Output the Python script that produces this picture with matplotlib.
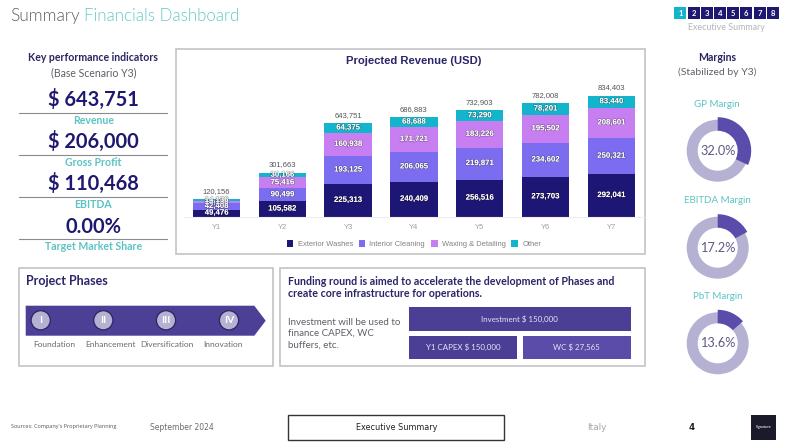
import matplotlib
matplotlib.use("Agg")
import matplotlib.patheffects as pe
from matplotlib import pyplot as plt
from matplotlib.patches import Circle, Polygon, Rectangle

W, H = 792, 444

# chart data
years = ["Y1", "Y2", "Y3", "Y4", "Y5", "Y6", "Y7"]
exterior = [49476, 105582, 225313, 240409, 256516, 273703, 292041]
interior = [42408, 90499, 193125, 206065, 219871, 234602, 250321]
waxing = [14136, 75416, 160938, 171721, 183226, 195502, 208601]
other = [14136, 30166, 64375, 68688, 73290, 78201, 83440]
totals = [120156, 301663, 643751, 686883, 732903, 782008, 834403]

kpi_values = ["$ 643,751", "$ 206,000", "$ 110,468", "0.00%"]
kpi_labels = ["Revenue", "Gross Profit", "EBITDA", "Target Market Share"]

margin_names = ["GP Margin", "EBITDA Margin", "PbT Margin"]
margin_values = [32.0, 17.2, 13.6]

phase_numbers = ["I", "II", "III", "IV"]
phase_names = ["Foundation", "Enhancement", "Diversification", "Innovation"]

NAVY = "#1e1870"
DARK = "#2a2560"
TEAL = "#5cc3c3"
GREY = "#5f5f68"
PURPLE = "#4b3f96"
PANEL = "#c4c4c6"
UI = "Lato"
ARIAL = "Liberation Sans"


def px_axes(fig, left, top, right, bottom):
    return fig.add_axes([left / W, 1 - bottom / H, (right - left) / W, (bottom - top) / H])


def drawPanel(bg, left, top, right, bottom):
    bg.add_patch(Rectangle((left, top), right - left, bottom - top, fc="white", ec=PANEL, lw=1.2))


def drawChart(fig):
    ax = px_axes(fig, 183.6, 86.2, 644.2, 216.7)
    series = [
        (exterior, "Exterior Washes", "#1e1675"),
        (interior, "Interior Cleaning", "#7b6cf0"),
        (waxing, "Waxing & Detailing", "#c77ef0"),
        (other, "Other", "#12b5cb"),
    ]
    bottom = [0] * len(years)
    for values, name, color in series:
        bars = ax.bar(years, values, 0.72, bottom=bottom, color=color, label=name)
        labels = ax.bar_label(bars, labels=[f"{v:,}" for v in values], label_type="center",
                              color="white", fontsize=5.6, fontweight="bold", family=ARIAL)
        for t in labels:
            t.set_path_effects([pe.withStroke(linewidth=0.8, foreground="#00000055")])
        bottom = [b + v for b, v in zip(bottom, values)]
    for i, total in enumerate(totals):
        ax.annotate(f"{total:,}", (i, total), xytext=(0, 3.2), textcoords="offset points",
                    ha="center", va="bottom", fontsize=5.5, color="#555555", family=ARIAL)
    ax.set_xlim(-0.5, 6.5)
    ax.set_ylim(0, 900000)
    ax.patch.set_alpha(0)
    for side in ["top", "left", "right"]:
        ax.spines[side].set_visible(False)
    ax.spines["bottom"].set_color("#eeeeee")
    ax.set_yticks([])
    ax.tick_params(axis="x", length=0, pad=5, labelsize=5.5, labelcolor="#a0a0a0")
    for t in ax.get_xticklabels():
        t.set_family(ARIAL)
    ax.legend(loc="center", bbox_to_anchor=(0.5, -0.212), ncol=4, frameon=False,
              handlelength=0.9, handleheight=0.9, handletextpad=0.55, columnspacing=0.75,
              labelcolor="#808080", prop={"family": ARIAL, "size": 5.45})


def drawDonut(fig, cx, cy, value):
    r = 36
    ax = px_axes(fig, cx - r, cy - r, cx + r, cy + r)
    ax.pie([100], colors=["#b5b1d3"], radius=31 / r, startangle=90,
           wedgeprops={"width": 11 / r})
    ax.pie([value, 100 - value], colors=["#5a4cab", "none"], radius=33.5 / r, startangle=90,
           counterclock=False, wedgeprops={"width": 13.5 / r})
    ax.set_xlim(-1, 1)
    ax.set_ylim(-1, 1)
    ax.text(0, 0, f"{value:.1f}%", ha="center", va="center", fontsize=9.2, color="#5d5a86", family=UI)


def main():
    fig = plt.figure(figsize=(W / 100, H / 100), dpi=100, facecolor="white")
    bg = fig.add_axes([0, 0, 1, 1], zorder=0)
    bg.set_xlim(0, W)
    bg.set_ylim(H, 0)
    bg.axis("off")
    top = fig.add_axes([0, 0, 1, 1], zorder=5)
    top.set_xlim(0, W)
    top.set_ylim(H, 0)
    top.axis("off")

    def text(x, y, s, size, color, ha="center", weight="normal", family=UI):
        return top.text(x, y, s, fontsize=size, color=color, ha=ha, va="center",
                        fontweight=weight, family=family)

    # header
    text(10, 16, "Summary", 12.4, "#5e5e66", ha="left", weight=300)
    text(84.5, 16, "Financials Dashboard", 12.2, "#68c8c8", ha="left", weight=300)
    for i in range(8):
        x = 674.3 + i * 13.2
        top.add_patch(Rectangle((x, 7.3), 12, 12, fc="#12b5cb" if i == 0 else NAVY, ec="none"))
        text(x + 6, 13.4, str(i + 1), 5.5, "white", weight="bold")
    text(726, 27.3, "Executive Summary", 6.4, "#b5b5bb")

    # kpi column
    text(93.3, 57.3, "Key performance indicators", 7.6, DARK, weight="bold")
    text(93.3, 72.3, "(Base Scenario Y3)", 7.6, GREY)
    for value, label, y_val, y_line, y_lab in zip(kpi_values, kpi_labels,
                                                  [99.3, 141.7, 183.7, 226.7],
                                                  [112.7, 154.7, 196.7, 238.7],
                                                  [120.7, 162.7, 204, 246.7]):
        text(93.3, y_val, value, 14.4, NAVY, weight="bold")
        top.plot([19, 166.7], [y_line, y_line], color="#8a8a90", lw=0.8)
        text(93.3, y_lab, label, 7.6, TEAL, weight="bold")

    # revenue chart
    drawPanel(bg, 175.7, 49.3, 645, 254.3)
    text(414, 61, "Projected Revenue (USD)", 8.1, "#2a2468", weight="bold", family=ARIAL)
    drawChart(fig)

    # margins
    text(717.3, 57.3, "Margins", 7.6, DARK, weight="bold")
    text(717.3, 72.3, "(Stabilized by Y3)", 7.5, GREY)
    for name, value, y_lab, y_c in zip(margin_names, margin_values, [104, 200.3, 296.3],
                                       [150.7, 247.7, 343.3]):
        text(717.3, y_lab, name, 7, TEAL)
        drawDonut(fig, 717.7, y_c, value)

    # project phases
    drawPanel(bg, 18.7, 267.7, 273.3, 366)
    text(26, 280.7, "Project Phases", 9, "#2a2468", ha="left", weight="bold")
    top.add_patch(Polygon([(25.7, 305.7), (254.3, 305.7), (265.7, 320.7), (254.3, 335.7), (25.7, 335.7)],
                          closed=True, fc=PURPLE, ec="none"))
    for num, name, cx, lx in zip(phase_numbers, phase_names, [40.7, 103.3, 166, 229],
                                 [54, 110.3, 166.7, 222.7]):
        top.add_patch(Circle((cx, 320.3), 9.6, fc="#b5b1d3", ec="#2c2560", lw=0.9))
        text(cx, 320.3, num, 7.5, "white", weight="bold")
        text(lx, 344.7, name, 6, "#6a6a72")

    # funding
    drawPanel(bg, 280.3, 267.7, 645, 366)
    text(287.7, 281.3, "Funding round is aimed to accelerate the development of Phases and", 7.7,
         "#2a2468", ha="left", weight="bold")
    text(287.7, 293.7, "create core infrastructure for operations.", 7.7, "#2a2468", ha="left", weight="bold")
    for y, line in zip([322.3, 333.3, 344.7], ["Investment will be used to", "finance CAPEX, WC", "buffers, etc."]):
        text(287.7, y, line, 7, GREY, ha="left")
    boxes = [(409, 307, 630.7, 330.7, "#4a3f95", "Investment $ 150,000"),
             (409, 335.7, 517.3, 359.3, "#4a3f95", "Y1 CAPEX $ 150,000"),
             (522.7, 335.7, 630.7, 359.3, "#5a4ca8", "WC $ 27,565")]
    for x0, y0, x1, y1, color, label in boxes:
        top.add_patch(Rectangle((x0, y0), x1 - x0, y1 - y0, fc=color, ec="none"))
        text((x0 + x1) / 2, (y0 + y1) / 2, label, 5.7, "#e6e4f4")

    # footer
    text(11, 426.7, "Sources: Company's Proprietary Planning", 4.0, "#55555c", ha="left", family="Open Sans")
    text(150, 427, "September 2024", 5.5, "#6a6a72", ha="left", family="DejaVu Sans")
    top.add_patch(Rectangle((288.3, 414.7), 216, 25, fc="white", ec="#33333a", lw=1))
    text(396.3, 427, "Executive Summary", 5.85, "#222222", family="DejaVu Sans")
    text(596.7, 427, "Italy", 6.4, "#a5a5aa", family="DejaVu Sans")
    text(691.7, 427.3, "4", 6.2, "#222222", weight="bold", family="DejaVu Sans")
    top.add_patch(Rectangle((750.7, 414.7), 25.3, 25.3, fc="#1a1a2a", ec="none"))
    text(763.3, 427.3, "Signature", 2.6, "#e0e0e0", weight="bold")

    fig.savefig("out.png", dpi=100)


main()
